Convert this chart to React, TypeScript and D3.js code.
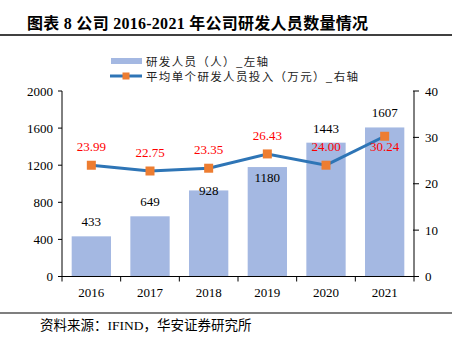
import React from "react";
import * as d3 from "d3";

const years = ["2016", "2017", "2018", "2019", "2020", "2021"];
const staff = [433, 649, 928, 1180, 1443, 1607];
const perCapita = [23.99, 22.75, 23.35, 26.43, 24.0, 30.24];
const leftTicks = [0, 400, 800, 1200, 1600, 2000];
const rightTicks = [0, 10, 20, 30, 40];
const title = "图表 8 公司 2016-2021 年公司研发人员数量情况";
const legendBar = "研发人员（人）_左轴";
const legendLine = "平均单个研发人员投入（万元）_右轴";
const source = "资料来源：IFIND，华安证券研究所";

// label placement offsets (pixels relative to bar top), as in the original
const barLabelDy = [-10, -10, 5, 15, -10, -10];

const W = 466, H = 353;
const left = 62, right = 414, top = 91, bottom = 276.5;
const barColor = "#A4B8E2";
const lineColor = "#2E75B6";
const markColor = "#ED7D31";
const serif = "'Liberation Serif', 'Times New Roman', serif";
const cjk = "'Noto Sans CJK SC', sans-serif";

export default function App() {
  const x = d3.scaleBand<string>().domain(years).range([left, right]).paddingInner(0.33).paddingOuter(0.165);
  const xb = d3.scaleBand<string>().domain(years).range([left, right]);
  const yL = d3.scaleLinear().domain([0, 2000]).range([bottom, top]);
  const yR = d3.scaleLinear().domain([0, 40]).range([bottom, top]);
  const cx = (d: string) => (xb(d) as number) + xb.bandwidth() / 2;
  const line = d3.line<number>().x((_, i) => cx(years[i])).y((v) => yR(v));
  const boundaries = years.map((d) => xb(d) as number).concat([right]);

  return (
    <svg width={W} height={H} style={{ position: "absolute", left: 0, top: 0 }}>
      <rect width={W} height={H} fill="#fff" />
      <text x={27} y={29} fontFamily={`${serif}, ${cjk}`} fontWeight="bold" fontSize={16} fill="#000" textLength={341} lengthAdjust="spacing">{title}</text>
      <line x1={0} x2={452} y1={35} y2={35} stroke="#000" strokeWidth={1.5} />

      {/* legend */}
      <rect x={111} y={58} width={31} height={6} fill={barColor} />
      <text x={146} y={65.5} fontFamily={cjk} fontSize={11.5} fill="#222" textLength={122} lengthAdjust="spacing">{legendBar}</text>
      <line x1={110} x2={142} y1={76} y2={76} stroke={lineColor} strokeWidth={3} />
      <rect x={122.5} y={72.5} width={7} height={7} fill={markColor} />
      <text x={146} y={80.5} fontFamily={cjk} fontSize={11.5} fill="#222" textLength={212} lengthAdjust="spacing">{legendLine}</text>

      {/* bars */}
      {staff.map((v, i) => (
        <rect key={years[i]} x={x(years[i])} y={yL(v)} width={x.bandwidth()} height={bottom - yL(v)} fill={barColor} />
      ))}

      {/* left axis */}
      <line x1={left} x2={left} y1={top} y2={bottom} stroke="#000" strokeWidth={1} />
      {leftTicks.map((t) => (
        <g key={t}>
          <line x1={left - 4} x2={left} y1={yL(t)} y2={yL(t)} stroke="#000" />
          <text x={53} y={yL(t)} dy="0.35em" textAnchor="end" fontFamily={serif} fontSize={13} fill="#000">{t}</text>
        </g>
      ))}
      {/* right axis */}
      <line x1={right} x2={right} y1={top} y2={bottom} stroke="#000" strokeWidth={1} />
      {rightTicks.map((t) => (
        <g key={t}>
          <line x1={right - 1} x2={right + 5} y1={yR(t)} y2={yR(t)} stroke="#000" />
          <text x={425} y={yR(t)} dy="0.35em" fontFamily={serif} fontSize={13} fill="#000">{t}</text>
        </g>
      ))}
      {/* x axis */}
      <line x1={left} x2={right + 5} y1={bottom} y2={bottom} stroke="#000" strokeWidth={1} />
      {boundaries.map((b, i) => (
        <line key={i} x1={b} x2={b} y1={bottom} y2={bottom + 5} stroke="#000" />
      ))}
      {years.map((d) => (
        <text key={d} x={cx(d)} y={297} textAnchor="middle" fontFamily={serif} fontSize={13} fill="#000">{d}</text>
      ))}

      {/* bar labels */}
      {staff.map((v, i) => (
        <text key={years[i]} x={cx(years[i])} y={yL(v) + barLabelDy[i]} textAnchor="middle" fontFamily={serif} fontSize={13} fill="#000">{v}</text>
      ))}

      {/* line */}
      <path d={line(perCapita) || ""} fill="none" stroke={lineColor} strokeWidth={3} />
      {perCapita.map((v, i) => (
        <rect key={years[i]} x={cx(years[i]) - 4.5} y={yR(v) - 4.5} width={9} height={9} fill={markColor} />
      ))}
      {perCapita.map((v, i) => {
        const below = i === perCapita.length - 1;
        return (
          <text key={years[i]} x={cx(years[i])} y={below ? yR(v) + 15 : yR(v) - 14} textAnchor="middle" fontFamily={serif} fontSize={13} fill="#FF0000">{v.toFixed(2)}</text>
        );
      })}

      <line x1={0} x2={452} y1={313} y2={313} stroke="#000" strokeWidth={1.2} />
      <text x={40} y={330} fontFamily={`${serif}, ${cjk}`} fontSize={13.5} fill="#000">{source}</text>
    </svg>
  );
}
